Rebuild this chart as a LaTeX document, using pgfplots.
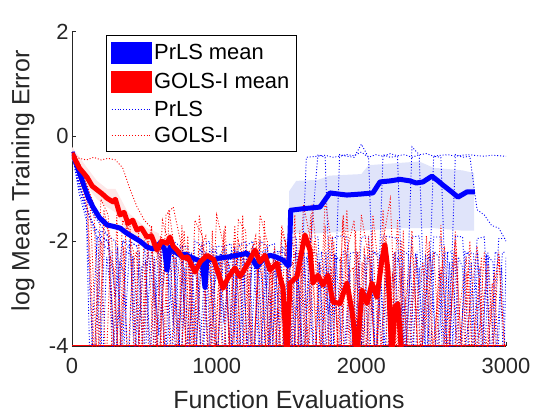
\documentclass[border=0pt]{standalone}
\usepackage{fontspec}
\setmainfont{Liberation Sans}
\usepackage{pgfplots}
\pgfplotsset{compat=1.18}
\definecolor{axgray}{RGB}{38,38,38}
\definecolor{bandblue}{RGB}{224,228,250}
\definecolor{bandpink}{RGB}{253,232,232}
\pgfplotsset{
 barleg/.style={legend image code/.code={\fill[##1] (0bp,-10.5bp) rectangle (40bp,10.5bp);}},
 dotleg/.style={legend image code/.code={\draw[##1] (0bp,0bp) -- (40bp,0bp);}},
 runb/.style={blue, line width=0.9bp, dash pattern=on 1bp off 1.9bp, forget plot},
 runr/.style={red, line width=0.9bp, dash pattern=on 1bp off 1.9bp, forget plot},
}
\begin{document}
\begin{tikzpicture}
\path[use as bounding box] (-72bp,-74bp) rectangle (488bp,346bp);
\begin{axis}[
  at={(0,0)}, anchor=south west,
  width=434bp, height=314.5bp, scale only axis,
  xmin=0, xmax=3000, ymin=-4, ymax=2,
  axis lines*=left,
  axis line style={draw=axgray, line width=0.6bp},
  every tick/.style={axgray, line width=0.6bp},
  major tick length=4.5bp, tick align=inside,
  xtick={0,1000,2000,3000}, ytick={-4,-2,0,2},
  /pgf/number format/assume math mode=true,
  /pgf/number format/1000 sep={},
  scaled x ticks=false,
  ticklabel style={font=\fontsize{22}{24}\selectfont, text=axgray},
  xticklabel style={yshift=-9bp},
  xlabel={Function Evaluations},
  ylabel={log Mean Training Error},
  every axis x label/.style={at={(axis description cs:0.5,-0.129)}, anchor=north, font=\fontsize{25}{28}\selectfont, text=axgray},
  every axis y label/.style={at={(axis description cs:-0.148,0.525)}, anchor=north, rotate=90, font=\fontsize{25}{28}\selectfont, text=axgray},
  legend cell align=left,
  legend style={at={(rel axis cs:0.0783,0.9889)}, anchor=north west, draw=black, line width=0.6bp, fill=white,
    font=\fontsize{22}{24}\selectfont, inner xsep=5bp, inner ysep=6.5bp, row sep=7.5bp,
    nodes={inner xsep=2bp, inner ysep=1bp}},
]
\addlegendimage{blue, barleg}
\addlegendentry{PrLS mean}
\addlegendimage{red, barleg}
\addlegendentry{GOLS-I mean}
\addlegendimage{blue, line width=0.9bp, dash pattern=on 1bp off 1.9bp, dotleg}
\addlegendentry{PrLS}
\addlegendimage{red, line width=0.9bp, dash pattern=on 1bp off 1.9bp, dotleg}
\addlegendentry{GOLS-I}

% shaded bands
\addplot[fill=bandblue, draw=none, forget plot] coordinates {
(1500,-1.05) (1550,-0.85) (1700,-0.83) (1780,-0.75) (2000,-0.72) (2050,-0.55) (2300,-0.5) (2400,-0.48) (2500,-0.6) (2700,-0.65) (2780,-0.7)
(2780,-1.8) (2700,-1.8) (2500,-1.75) (2300,-1.75) (2000,-1.8) (1700,-1.85) (1500,-1.85)} -- cycle;
\addplot[fill=bandpink, draw=none, forget plot] coordinates {
(0,-0.2) (104,-0.6) (173,-0.85) (242,-1.0) (300,-1.0) (387,-1.45) (449,-1.6) (518,-1.75) (600,-1.85)
(600,-2.3) (518,-2.1) (449,-1.95) (387,-1.85) (300,-1.45) (242,-1.35) (173,-1.2) (104,-0.95) (0,-0.45)} -- cycle;

% PrLS runs
\addplot[runb] coordinates {
(0,-0.3) (50,-0.9) (100,-1.4) (150,-1.7) (200,-1.9) (250,-2.0) (300,-3.0) (350,-2.0) (400,-2.1) (450,-4.5) (500,-2.1) (550,-2.1) (600,-3.8) (650,-2.2) (700,-2.2) (750,-4.5) (800,-2.2) (850,-2.3) (900,-4.5) (950,-2.2) (1000,-2.2) (1050,-3.5) (1100,-2.2) (1150,-2.2) (1200,-4.5) (1250,-2.2) (1300,-2.3) (1350,-4.5) (1400,-2.2) (1450,-2.2) (1500,-2.3) (1560,-4.5) (1620,-0.4) (1700,-0.38) (1750,-0.36) (1800,-0.4) (1850,-0.38) (1900,-0.35) (1950,-0.37) (2000,-0.3) (2050,-0.4) (2100,-0.35) (2150,-0.38) (2200,-0.33) (2250,-0.37) (2300,-0.35) (2350,-0.4) (2400,-0.35) (2450,-0.33) (2500,-0.38) (2550,-0.36) (2600,-0.35) (2650,-0.38) (2700,-0.36) (2750,-0.35) (2800,-0.37) (2850,-0.38) (2900,-0.36) (2950,-0.37) (3000,-0.38)};
\addplot[runb] coordinates {
(0,-0.35) (50,-1.0) (100,-1.5) (150,-4.5) (200,-1.8) (250,-1.9) (300,-4.5) (350,-2.0) (400,-2.0) (450,-2.1) (500,-4.5) (550,-2.1) (600,-2.2) (650,-4.5) (700,-2.0) (750,-2.1) (800,-2.1) (850,-4.5) (900,-2.0) (950,-4.5) (1000,-2.1) (1050,-2.1) (1100,-4.5) (1150,-2.1) (1200,-2.0) (1250,-4.5) (1300,-2.0) (1350,-2.1) (1400,-4.5) (1450,-2.0) (1500,-1.95) (1550,-1.92) (1600,-4.5) (1650,-1.92) (1700,-1.92) (1750,-4.5) (1800,-1.95) (1850,-1.9) (1900,-1.92) (1950,-4.5) (2000,-1.92) (2050,-1.92) (2100,-4.5) (2150,-1.9) (2200,-1.92) (2250,-1.95) (2300,-4.5) (2350,-1.92) (2400,-1.9) (2450,-4.5) (2500,-1.92) (2550,-1.92) (2600,-4.5) (2650,-1.9) (2700,-1.92) (2750,-4.5) (2800,-1.95) (2850,-1.92) (2900,-4.5) (2950,-1.95) (3000,-1.95)};
\addplot[runb] coordinates {
(0,-0.3) (50,-1.1) (100,-1.6) (125,-4.5) (175,-1.9) (225,-2.1) (275,-2.2) (325,-4.5) (375,-2.2) (425,-2.3) (475,-4.5) (525,-2.2) (575,-3.2) (625,-2.2) (675,-2.25) (725,-4.5) (775,-2.2) (825,-2.3) (875,-4.5) (925,-2.2) (975,-3.0) (1025,-2.23) (1075,-4.5) (1125,-2.2) (1175,-2.23) (1225,-4.5) (1275,-2.25) (1325,-2.2) (1375,-4.5) (1425,-2.2) (1475,-2.23) (1525,-4.5) (1575,-2.23) (1625,-2.23) (1675,-4.5) (1725,-2.2) (1775,-3.4) (1825,-2.23) (1875,-4.5) (1925,-2.23) (1975,-2.2) (2025,-4.5) (2075,-2.2) (2125,-2.25) (2175,-4.5) (2225,-2.23) (2275,-2.2) (2325,-4.5) (2375,-2.23) (2425,-3.6) (2475,-2.2) (2525,-4.5) (2575,-2.23) (2625,-2.2) (2675,-4.5) (2725,-2.22) (2775,-2.23) (2825,-4.5) (2875,-2.2) (2925,-4.5) (2975,-2.22) (3000,-2.2)};
\addplot[runb] coordinates {
(0,-0.3) (50,-0.7) (100,-1.2) (150,-1.5) (200,-1.7) (250,-1.9) (300,-2.0) (350,-4.5) (400,-2.0) (450,-2.1) (500,-2.0) (550,-4.5) (600,-2.0) (650,-2.1) (700,-3.6) (750,-2.1) (800,-4.5) (850,-2.0) (900,-2.1) (950,-2.0) (1000,-4.5) (1050,-2.1) (1100,-2.05) (1150,-4.5) (1200,-2.1) (1250,-2.0) (1300,-4.5) (1350,-2.1) (1400,-2.05) (1450,-4.5) (1500,-2.0) (1550,-2.1) (1600,-4.5) (1650,-2.0) (1700,-0.35) (1750,-0.4) (1800,-4.5) (1850,-0.35) (1900,-0.38) (1950,-0.4) (2000,-0.15) (2050,-0.4) (2100,-4.5) (2150,-0.35) (2200,-0.4) (2250,-0.38) (2300,-4.5) (2350,-0.2) (2400,-0.35) (2450,-4.5) (2500,-0.38) (2550,-0.4) (2600,-4.5) (2650,-0.35) (2700,-0.4) (2750,-0.38) (2800,-1.4) (2850,-1.5) (2900,-1.7) (2950,-1.75) (3000,-2.0)};
\addplot[runb] coordinates {
(0,-0.3) (60,-1.0) (120,-1.5) (165,-1.8) (195,-4.5) (225,-1.95) (255,-2.05) (285,-4.5) (315,-2.1) (345,-4.5) (375,-2.15) (405,-2.05) (435,-4.5) (465,-2.2) (495,-4.5) (525,-2.1) (555,-2.2) (585,-4.5) (615,-2.15) (645,-4.5) (675,-2.2) (705,-2.3) (735,-4.5) (765,-2.1) (795,-4.5) (825,-2.2) (855,-4.5) (885,-2.15) (915,-2.25) (945,-4.5) (975,-2.1) (1005,-4.5) (1035,-2.2) (1065,-2.15) (1095,-4.5) (1125,-2.1) (1155,-4.5) (1185,-2.2) (1215,-4.5) (1245,-2.1) (1275,-2.2) (1305,-4.5) (1335,-2.15) (1365,-4.5) (1395,-2.2) (1425,-4.5) (1455,-2.1) (1485,-2.2) (1515,-4.5) (1545,-2.2) (1575,-4.5) (1605,-2.25) (1635,-4.5) (1665,-2.2) (1695,-2.25) (1725,-4.5) (1755,-2.2) (1785,-4.5) (1815,-2.25) (1845,-4.5) (1875,-2.2) (1905,-2.25) (1935,-4.5) (1965,-2.2) (1995,-4.5) (2025,-2.25) (2055,-4.5) (2085,-2.2) (2115,-2.3) (2145,-4.5) (2175,-2.2) (2205,-4.5) (2235,-2.25) (2265,-4.5) (2295,-2.2) (2325,-2.25) (2355,-4.5) (2385,-2.2) (2415,-4.5) (2445,-2.25) (2475,-4.5) (2505,-2.2) (2535,-2.3) (2565,-4.5) (2595,-2.2) (2625,-4.5) (2655,-2.25) (2685,-4.5) (2715,-2.2) (2745,-2.25) (2775,-4.5) (2805,-2.2) (2835,-4.5) (2865,-2.25) (2895,-4.5) (2925,-2.2) (2955,-2.3) (2985,-4.5) (3000,-2.3)};
\addplot[runb] coordinates {
(0,-0.3) (40,-0.8) (90,-1.3) (140,-1.7) (180,-2.0) (210,-4.5) (240,-2.3) (270,-3.0) (300,-4.5) (330,-2.4) (360,-2.6) (390,-4.5) (420,-2.3) (450,-4.5) (480,-2.5) (510,-2.4) (540,-4.5) (570,-2.3) (600,-4.5) (630,-2.6) (660,-2.4) (690,-4.5) (720,-2.3) (750,-4.5) (780,-2.5) (810,-4.5) (840,-2.4) (870,-2.6) (900,-4.5) (930,-2.3) (960,-4.5) (990,-2.5) (1020,-2.4) (1050,-4.5) (1080,-2.3) (1110,-4.5) (1140,-2.6) (1170,-4.5) (1200,-2.4) (1230,-2.5) (1260,-4.5) (1290,-2.3) (1320,-4.5) (1350,-2.5) (1380,-4.5) (1410,-2.4) (1440,-2.3) (1470,-4.5) (1500,-2.5) (1530,-4.5) (1560,-2.4) (1590,-4.5) (1620,-2.3) (1650,-2.6) (1680,-4.5) (1710,-2.4) (1740,-4.5) (1770,-2.5) (1800,-4.5) (1830,-2.3) (1860,-2.4) (1890,-4.5) (1920,-2.6) (1950,-4.5) (1980,-2.4) (2010,-4.5) (2040,-2.3) (2070,-2.5) (2100,-4.5) (2130,-2.4) (2160,-4.5) (2190,-2.5) (2220,-4.5) (2250,-2.3) (2280,-2.6) (2310,-4.5) (2340,-2.4) (2370,-4.5) (2400,-2.5) (2430,-4.5) (2460,-2.3) (2490,-2.4) (2520,-4.5) (2550,-2.6) (2580,-4.5) (2610,-2.4) (2640,-4.5) (2670,-2.3) (2700,-2.5) (2730,-4.5) (2760,-2.4) (2790,-4.5) (2820,-2.5) (2850,-4.5) (2880,-2.3) (2910,-2.4) (2940,-4.5) (2970,-2.5) (3000,-4.5)};

% GOLS-I runs
\addplot[runr] coordinates {
(0,-0.3) (50,-0.42) (100,-0.45) (150,-0.4) (200,-0.45) (250,-0.42) (300,-0.45) (350,-0.6) (400,-1.0) (450,-1.35) (500,-1.6) (550,-1.75) (600,-4.5) (650,-1.5) (700,-1.35) (750,-2.0) (800,-4.5) (850,-1.6) (900,-1.9) (950,-4.5) (1000,-1.5) (1050,-2.1) (1100,-4.5) (1150,-1.6) (1200,-1.8) (1250,-4.5) (1300,-1.5) (1350,-2.0) (1400,-4.5) (1450,-1.7) (1500,-2.3) (1550,-4.5) (1600,-1.3) (1650,-2.0) (1700,-4.5) (1750,-1.2) (1800,-2.2) (1850,-4.5) (1900,-1.4) (1950,-4.5) (2000,-1.5) (2050,-2.3) (2100,-4.5) (2150,-1.4) (2200,-4.5) (2250,-1.6) (2300,-4.5) (2350,-1.8) (2400,-4.5) (2450,-1.9) (2500,-4.5) (2550,-1.7) (2600,-4.5) (2650,-1.8) (2700,-4.5) (2750,-2.0) (2800,-4.5) (2850,-2.2) (2900,-4.5) (2950,-2.3) (3000,-4.5)};
\addplot[runr] coordinates {
(0,-0.35) (50,-0.6) (100,-1.0) (150,-4.5) (200,-1.2) (250,-1.5) (300,-4.5) (350,-1.6) (400,-1.8) (450,-4.5) (500,-1.9) (550,-2.2) (600,-4.5) (650,-2.0) (700,-2.3) (750,-4.5) (800,-1.9) (850,-4.5) (900,-2.1) (950,-2.4) (1000,-4.5) (1050,-1.8) (1100,-4.5) (1150,-2.0) (1200,-2.5) (1250,-4.5) (1300,-1.9) (1350,-4.5) (1400,-2.1) (1450,-4.5) (1500,-1.6) (1550,-2.5) (1600,-4.5) (1650,-1.5) (1700,-4.5) (1800,-1.9) (1850,-4.5) (1900,-2.2) (1950,-1.6) (2000,-4.5) (2050,-1.9) (2100,-4.5) (2150,-2.0) (2200,-1.2) (2250,-4.5) (2350,-2.1) (2400,-4.5) (2500,-2.2) (2550,-4.5) (2650,-2.0) (2700,-4.5) (2800,-2.1) (2850,-4.5) (2950,-2.2) (3000,-4.5)};
\addplot[runr] coordinates {
(0,-0.3) (75,-0.8) (125,-1.3) (175,-4.5) (225,-1.6) (275,-2.0) (325,-4.5) (375,-1.7) (425,-2.2) (475,-4.5) (525,-2.0) (575,-4.5) (625,-1.6) (675,-2.1) (725,-4.5) (775,-1.8) (825,-4.5) (875,-2.2) (925,-1.9) (975,-4.5) (1025,-2.3) (1075,-4.5) (1125,-1.7) (1175,-4.5) (1225,-2.2) (1275,-2.0) (1325,-4.5) (1375,-2.4) (1425,-4.5) (1475,-2.0) (1525,-4.5) (1575,-1.8) (1625,-4.5) (1675,-2.0) (1725,-4.5) (1775,-1.9) (1825,-4.5) (1875,-1.5) (1925,-4.5) (1975,-2.2) (2025,-4.5) (2075,-1.8) (2125,-4.5) (2175,-2.3) (2225,-4.5) (2275,-2.0) (2325,-4.5) (2425,-2.4) (2475,-4.5) (2575,-2.1) (2625,-4.5) (2725,-2.3) (2775,-4.5) (2875,-2.5) (2925,-4.5)};
\addplot[runr] coordinates {
(0,-0.3) (50,-0.5) (100,-0.9) (150,-1.3) (190,-4.5) (220,-1.4) (250,-1.8) (280,-4.5) (310,-1.5) (340,-4.5) (370,-1.9) (400,-1.6) (430,-4.5) (460,-1.8) (490,-4.5) (520,-2.2) (550,-1.7) (580,-4.5) (610,-1.9) (640,-4.5) (670,-1.4) (700,-2.0) (730,-4.5) (760,-1.7) (790,-4.5) (820,-2.3) (850,-4.5) (880,-1.5) (910,-2.1) (940,-4.5) (970,-1.8) (1000,-4.5) (1030,-2.4) (1060,-1.7) (1090,-4.5) (1120,-2.0) (1150,-4.5) (1180,-1.5) (1210,-4.5) (1240,-2.2) (1270,-1.9) (1300,-4.5) (1330,-1.6) (1360,-4.5) (1390,-2.3) (1420,-4.5) (1450,-1.8) (1480,-2.1) (1510,-4.5) (1540,-1.5) (1570,-4.5) (1600,-2.0) (1630,-4.5) (1660,-1.3) (1690,-2.2) (1720,-4.5) (1750,-1.7) (1780,-4.5) (1810,-2.0) (1840,-4.5) (1870,-1.6) (1900,-2.4) (1930,-4.5) (1960,-1.8) (1990,-4.5) (2020,-2.1) (2050,-4.5) (2080,-1.5) (2110,-2.3) (2140,-4.5) (2170,-1.9) (2200,-4.5) (2230,-2.2) (2260,-4.5) (2290,-1.8) (2320,-4.5) (2380,-2.3) (2410,-4.5) (2470,-2.0) (2500,-4.5) (2560,-2.4) (2590,-4.5) (2650,-2.2) (2680,-4.5) (2740,-2.5) (2770,-4.5) (2830,-2.3) (2860,-4.5) (2920,-2.6) (2950,-4.5)};
\addplot[runr] coordinates {
(0,-0.3) (60,-0.9) (110,-1.4) (160,-4.5) (200,-2.0) (235,-4.5) (265,-2.3) (295,-2.6) (325,-4.5) (355,-2.1) (385,-4.5) (415,-2.5) (445,-2.2) (475,-4.5) (505,-2.4) (535,-4.5) (565,-2.6) (595,-2.2) (625,-4.5) (655,-2.5) (685,-4.5) (715,-2.3) (745,-2.7) (775,-4.5) (805,-2.4) (835,-4.5) (865,-2.6) (895,-4.5) (925,-2.3) (955,-2.5) (985,-4.5) (1015,-2.7) (1045,-4.5) (1075,-2.4) (1105,-2.6) (1135,-4.5) (1165,-2.3) (1195,-4.5) (1225,-2.6) (1255,-4.5) (1285,-2.4) (1315,-2.7) (1345,-4.5) (1375,-2.5) (1405,-4.5) (1435,-2.3) (1465,-4.5) (1495,-2.6) (1525,-2.4) (1555,-4.5) (1585,-2.5) (1615,-4.5) (1645,-2.7) (1675,-4.5) (1705,-2.4) (1735,-2.6) (1765,-4.5) (1795,-2.5) (1825,-4.5) (1855,-2.3) (1885,-4.5) (1915,-2.6) (1945,-2.5) (1975,-4.5) (2005,-2.4) (2035,-4.5) (2065,-2.7) (2095,-4.5) (2125,-2.5) (2155,-2.4) (2185,-4.5) (2215,-2.6) (2245,-4.5) (2275,-2.5) (2305,-4.5) (2365,-2.6) (2395,-4.5) (2455,-2.7) (2485,-4.5) (2545,-2.5) (2575,-4.5) (2635,-2.8) (2665,-4.5) (2725,-2.6) (2755,-4.5) (2815,-2.7) (2845,-4.5) (2905,-2.8) (2935,-4.5)};
\addplot[red, line width=1.4bp, forget plot] coordinates {(0,-3.99) (3000,-3.99)};

% means
\addplot[blue, line width=5bp, line join=round, forget plot] coordinates {
(0,-0.30) (40,-0.6) (76,-0.89) (110,-1.15) (145,-1.35) (190,-1.55) (242,-1.69) (290,-1.72) (332,-1.75) (380,-1.85) (422,-1.92) (470,-2.0) (518,-2.11) (560,-2.15) (608,-2.04) (640,-2.15) (657,-2.55) (677,-2.11) (710,-2.2) (746,-2.27) (780,-2.25) (815,-2.3) (860,-2.35) (900,-2.4) (919,-2.88) (933,-2.36) (980,-2.35) (1023,-2.32) (1080,-2.3) (1140,-2.27) (1209,-2.23) (1250,-2.35) (1278,-2.49) (1320,-2.35) (1368,-2.27) (1410,-2.3) (1458,-2.36) (1490,-2.46) (1500,-2.46) (1512,-1.41) (1600,-1.38) (1714,-1.35) (1783,-1.08) (1840,-1.1) (1900,-1.12) (2000,-1.1) (2080,-1.08) (2129,-0.87) (2200,-0.85) (2267,-0.82) (2336,-0.85) (2380,-0.89) (2426,-0.87) (2488,-0.76) (2530,-0.85) (2564,-0.93) (2620,-1.05) (2668,-1.16) (2730,-1.06) (2785,-1.06)};
\addplot[red, line width=5bp, line join=round, forget plot] coordinates {
(0,-0.32) (50,-0.6) (104,-0.78) (140,-0.95) (173,-1.02) (210,-1.1) (242,-1.18) (283,-1.25) (300,-1.2) (332,-1.5) (360,-1.45) (387,-1.66) (420,-1.6) (449,-1.79) (480,-1.75) (518,-1.92) (550,-1.9) (587,-2.17) (620,-2.0) (657,-2.04) (677,-1.92) (700,-2.1) (726,-2.17) (767,-2.32) (800,-2.3) (850,-2.59) (885,-2.40) (933,-2.27) (980,-2.35) (1044,-2.9) (1078,-2.7) (1126,-2.51) (1161,-2.68) (1209,-2.46) (1265,-2.17) (1299,-2.40) (1334,-2.27) (1368,-2.55) (1417,-2.42) (1437,-2.68) (1458,-2.88) (1486,-4.2) (1507,-2.8) (1555,-2.68) (1610,-1.88) (1645,-2.17) (1666,-2.8) (1700,-2.65) (1735,-2.84) (1769,-2.65) (1804,-3.16) (1852,-3.19) (1900,-2.8) (1935,-3.32) (1970,-4.2) (2004,-2.93) (2039,-3.19) (2073,-2.8) (2108,-3.07) (2142,-2.36) (2163,-2.07) (2184,-2.55) (2211,-4.2) (2232,-3.26) (2253,-3.19) (2280,-4.2)};
\end{axis}
\end{tikzpicture}
\end{document}
